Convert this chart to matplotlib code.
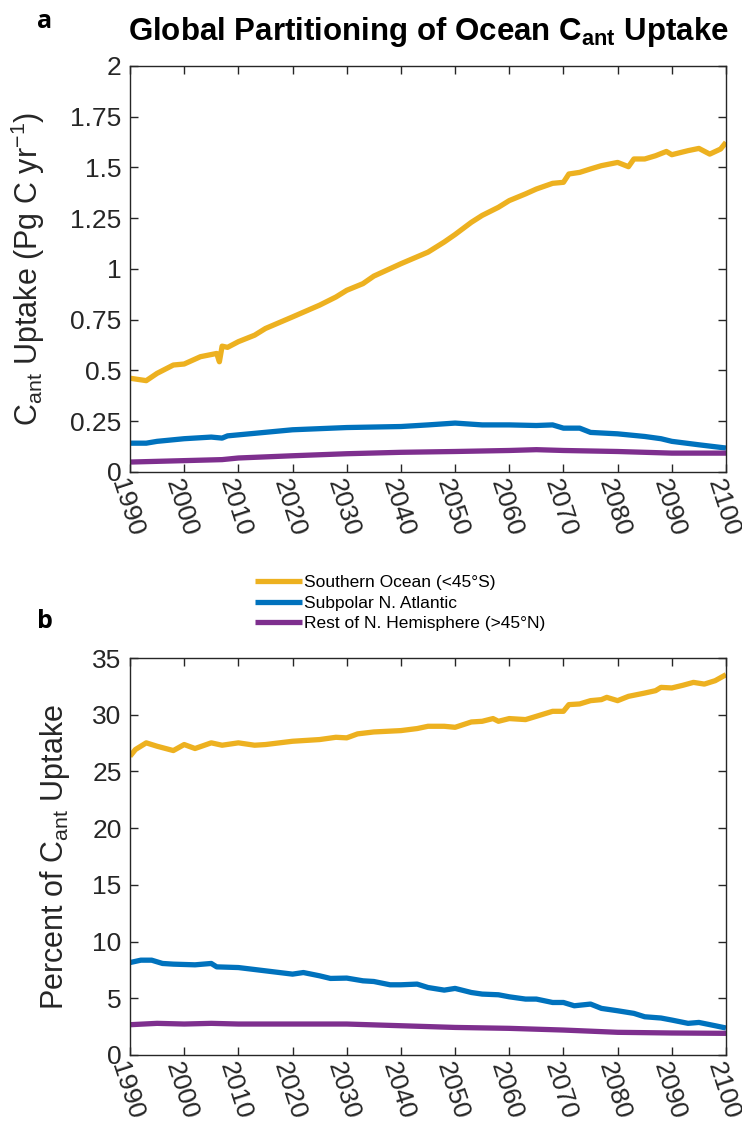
import matplotlib
matplotlib.use("Agg")
import matplotlib.pyplot as plt
import matplotlib.transforms as mtransforms

plt.rcParams['font.family'] = ['Liberation Sans', 'DejaVu Sans']
plt.rcParams['mathtext.fontset'] = 'custom'
plt.rcParams['mathtext.rm'] = 'Liberation Sans'
plt.rcParams['mathtext.it'] = 'Liberation Sans:italic'
plt.rcParams['mathtext.bf'] = 'Liberation Sans:bold'

# ---------------- data ----------------
so_a_years = [1990, 1993, 1995, 1998, 2000, 2003, 2006, 2006.5, 2007, 2008, 2010, 2013, 2015, 2020,
              2025, 2028, 2030, 2033, 2035, 2040, 2045, 2048, 2050, 2053, 2055, 2058, 2060, 2063,
              2065, 2068, 2070, 2071, 2073, 2075, 2077, 2080, 2082, 2083, 2085, 2087, 2089, 2090,
              2093, 2095, 2097, 2099, 2100]
so_a = [0.462, 0.45, 0.486, 0.527, 0.532, 0.568, 0.584, 0.543, 0.62, 0.614, 0.642, 0.674, 0.707, 0.764,
        0.822, 0.862, 0.895, 0.928, 0.965, 1.026, 1.083, 1.133, 1.17, 1.23, 1.264, 1.304, 1.337, 1.37,
        1.394, 1.422, 1.427, 1.468, 1.476, 1.493, 1.509, 1.525, 1.504, 1.542, 1.542, 1.558, 1.579, 1.563,
        1.583, 1.594, 1.566, 1.591, 1.624]

na_a_years = [1990, 1993, 1995, 2000, 2005, 2007, 2008, 2010, 2020, 2030, 2040, 2045, 2050, 2055,
              2060, 2065, 2068, 2070, 2073, 2075, 2080, 2085, 2088, 2090, 2095, 2100]
na_a = [0.142, 0.142, 0.151, 0.164, 0.172, 0.167, 0.178, 0.183, 0.208, 0.219, 0.224, 0.232, 0.241, 0.232,
        0.232, 0.229, 0.232, 0.216, 0.216, 0.195, 0.188, 0.175, 0.164, 0.151, 0.134, 0.118]

nh_a_years = [1990, 2000, 2007, 2010, 2020, 2030, 2040, 2050, 2060, 2065, 2070, 2080, 2090, 2100]
nh_a = [0.049, 0.056, 0.061, 0.069, 0.080, 0.090, 0.097, 0.101, 0.106, 0.110, 0.106, 0.101, 0.093, 0.093]

so_b_years = [1990, 1991, 1993, 1995, 1998, 2000, 2002, 2005, 2007, 2010, 2013, 2015, 2020, 2025,
              2028, 2030, 2032, 2035, 2040, 2043, 2045, 2048, 2050, 2053, 2055, 2057, 2058, 2060,
              2063, 2065, 2068, 2070, 2071, 2073, 2075, 2077, 2078, 2080, 2082, 2085, 2087, 2088,
              2090, 2092, 2094, 2096, 2098, 2100]
so_b = [26.34, 26.93, 27.52, 27.22, 26.84, 27.37, 27.02, 27.52, 27.31, 27.52, 27.31, 27.37, 27.66, 27.81,
        28.01, 27.96, 28.31, 28.48, 28.60, 28.78, 28.98, 28.98, 28.89, 29.36, 29.42, 29.66, 29.42, 29.66,
        29.57, 29.86, 30.30, 30.30, 30.89, 30.95, 31.24, 31.33, 31.53, 31.24, 31.62, 31.91, 32.12, 32.41,
        32.36, 32.59, 32.85, 32.70, 33.00, 33.53]

na_b_years = [1990, 1992, 1994, 1996, 1998, 2002, 2005, 2006, 2010, 2015, 2020, 2022, 2025, 2027,
              2030, 2033, 2035, 2038, 2040, 2043, 2045, 2048, 2050, 2053, 2055, 2058, 2060, 2063,
              2065, 2068, 2070, 2072, 2075, 2077, 2080, 2083, 2085, 2088, 2090, 2093, 2095, 2098, 2100]
na_b = [8.15, 8.36, 8.36, 8.07, 8.01, 7.95, 8.07, 7.77, 7.71, 7.42, 7.13, 7.27, 6.98, 6.75,
        6.78, 6.54, 6.48, 6.19, 6.19, 6.25, 5.95, 5.72, 5.87, 5.51, 5.37, 5.31, 5.13, 4.93,
        4.93, 4.63, 4.63, 4.34, 4.49, 4.11, 3.90, 3.67, 3.37, 3.26, 3.08, 2.79, 2.87, 2.58, 2.38]

nh_b_years = [1990, 1995, 2000, 2005, 2010, 2020, 2030, 2040, 2050, 2060, 2070, 2080, 2090, 2100]
nh_b = [2.67, 2.79, 2.73, 2.79, 2.73, 2.73, 2.73, 2.58, 2.43, 2.35, 2.20, 2.00, 1.94, 1.91]

series_labels = ['Southern Ocean (<45°S)', 'Subpolar N. Atlantic', 'Rest of N. Hemisphere (>45°N)']
series_colors = ['#EDB120', '#0072BD', '#7E2F8E']

x_ticks = list(range(1990, 2101, 10))
a_yticks = [0, 0.25, 0.5, 0.75, 1, 1.25, 1.5, 1.75, 2]
a_yticklabels = ['0', '0.25', '0.5', '0.75', '1', '1.25', '1.5', '1.75', '2']
b_yticks = [0, 5, 10, 15, 20, 25, 30, 35]

# ---------------- figure ----------------
W, H = 742, 1129
fig = plt.figure(figsize=(W / 100, H / 100), dpi=100)

def px_axes(left, top, right, bottom):
    return fig.add_axes([left / W, 1 - bottom / H, (right - left) / W, (bottom - top) / H])

ax_a = px_axes(130, 66, 726, 472)
ax_b = px_axes(130, 658, 726, 1055)

edge = '#262626'
tick_fs = 19
label_fs = 22
lw = 3.8

def style(ax):
    for s in ax.spines.values():
        s.set_color(edge)
        s.set_linewidth(1.0)
    ax.tick_params(direction='in', length=6, width=1.0, colors=edge, labelsize=tick_fs,
                   top=True, right=True, pad=6)
    ax.set_xlim(1990, 2100)
    ax.set_xticks(x_ticks)
    ax.set_xticklabels([str(t) for t in x_ticks], rotation=-72, ha='left', va='center',
                       rotation_mode='anchor')
    offset = mtransforms.ScaledTranslation(-12 / 100, 0, fig.dpi_scale_trans)
    for lab in ax.get_xticklabels():
        lab.set_transform(lab.get_transform() + offset)

lines = []
for yrs, vals, c, lab in zip([so_a_years, na_a_years, nh_a_years], [so_a, na_a, nh_a],
                             series_colors, series_labels):
    l, = ax_a.plot(yrs, vals, color=c, lw=lw, label=lab, solid_capstyle='butt')
    lines.append(l)
for yrs, vals, c in zip([so_b_years, na_b_years, nh_b_years], [so_b, na_b, nh_b], series_colors):
    ax_b.plot(yrs, vals, color=c, lw=lw, solid_capstyle='butt')

style(ax_a)
style(ax_b)
ax_a.set_ylim(0, 2)
ax_a.set_yticks(a_yticks)
ax_a.set_yticklabels(a_yticklabels)
ax_b.set_ylim(0, 35)
ax_b.set_yticks(b_yticks)

ax_a.set_ylabel(r'C$_{\mathrm{ant}}$ Uptake (Pg C yr$^{-1}$)', fontsize=label_fs, color=edge)
ax_a.yaxis.set_label_coords(-0.14, 0.5)
ax_b.set_ylabel(r'Percent of C$_{\mathrm{ant}}$ Uptake', fontsize=label_fs, color=edge)
ax_b.yaxis.set_label_coords(-0.097, 0.5)

fig.text(428 / W, 1 - 40 / H, r'Global Partitioning of Ocean C$_{\mathbf{ant}}$ Uptake',
         fontsize=22.5, fontweight='bold', ha='center', va='baseline', color='black')

fig.text(45 / W, 1 - 22 / H, 'a', fontsize=18, fontweight='bold', ha='center', va='center',
         family=['Open Sans', 'DejaVu Sans'])
fig.text(45 / W, 1 - 622 / H, 'b', fontsize=18, fontweight='bold', ha='center', va='center',
         family=['Open Sans', 'DejaVu Sans'])

fig.legend(handles=lines, labels=series_labels, loc='center left',
           bbox_to_anchor=(255 / W, 1 - 603 / H), frameon=False, fontsize=12.5,
           handlelength=2.7, handletextpad=0.1, labelspacing=0.3, borderpad=0,
           borderaxespad=0)

fig.savefig('out.png', dpi=100)
